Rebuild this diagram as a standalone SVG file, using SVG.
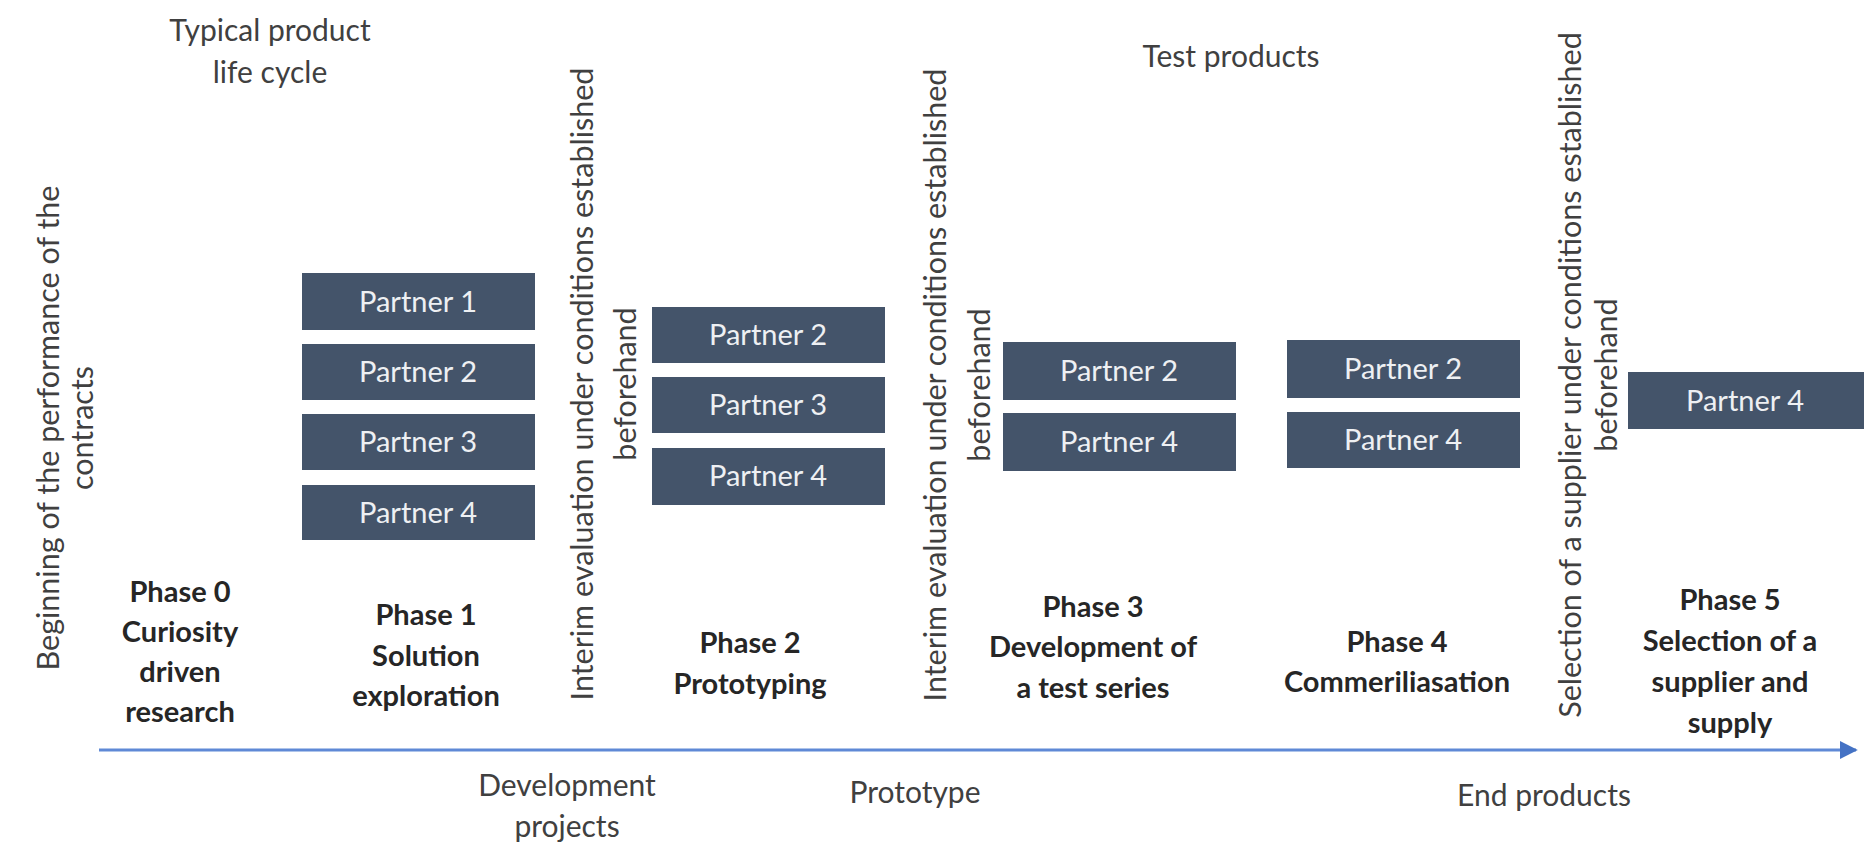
<svg xmlns="http://www.w3.org/2000/svg" width="1864" height="844" viewBox="0 0 1864 844">
<defs>
<style>
.box{fill:#44546a;}
.pt{font-family:Lato,"Open Sans","Liberation Sans",sans-serif;font-size:29px;fill:#eef0f3;text-anchor:middle;}
.ph{font-family:Lato,"Open Sans","Liberation Sans",sans-serif;font-size:29px;font-weight:bold;fill:#262626;text-anchor:middle;}
.lb{font-family:Lato,"Open Sans","Liberation Sans",sans-serif;font-size:30px;fill:#404040;text-anchor:middle;}
.vt{font-family:Lato,"Open Sans","Liberation Sans",sans-serif;font-size:30.5px;fill:#404040;text-anchor:middle;}
</style>
<marker id="ah" viewBox="0 0 10 10" refX="9" refY="5" markerWidth="6" markerHeight="6" orient="auto" markerUnits="strokeWidth">
<path d="M0,0 L10,5 L0,10 Z" fill="#4472c4"/>
</marker>
</defs>
<rect width="1864" height="844" fill="#ffffff"/>

<g id="connectors">
<line x1="99" y1="750" x2="1856" y2="750" stroke="#5f89d6" stroke-width="3" marker-end="url(#ah)"/>
</g>

<g id="title-lifecycle"><text class="lb" x="270" y="41">Typical product<tspan x="270" dy="42">life cycle</tspan></text></g>
<g id="label-test-products"><text class="lb" x="1231" y="67">Test products</text></g>

<g id="milestone-start"><text class="vt" transform="translate(59,428) rotate(-90)">Beginning of the performance of the<tspan x="0" dy="34">contracts</tspan></text></g>
<g id="milestone-eval-1"><text class="vt" transform="translate(593,384) rotate(-90)">Interim evaluation under conditions established<tspan x="0" dy="43">beforehand</tspan></text></g>
<g id="milestone-eval-2"><text class="vt" transform="translate(946,385) rotate(-90)">Interim evaluation under conditions established<tspan x="0" dy="44">beforehand</tspan></text></g>
<g id="milestone-selection"><text class="vt" transform="translate(1581,375) rotate(-90)">Selection of a supplier under conditions established<tspan x="0" dy="36">beforehand</tspan></text></g>

<g id="phase1-partners">
<rect class="box" x="302" y="273" width="233" height="57"/><text class="pt" x="418" y="312">Partner 1</text>
<rect class="box" x="302" y="344" width="233" height="56"/><text class="pt" x="418" y="382">Partner 2</text>
<rect class="box" x="302" y="414" width="233" height="56"/><text class="pt" x="418" y="452">Partner 3</text>
<rect class="box" x="302" y="485" width="233" height="55"/><text class="pt" x="418" y="523">Partner 4</text>
</g>
<g id="phase2-partners">
<rect class="box" x="652" y="307" width="233" height="56"/><text class="pt" x="768" y="345">Partner 2</text>
<rect class="box" x="652" y="377" width="233" height="56"/><text class="pt" x="768" y="415">Partner 3</text>
<rect class="box" x="652" y="448" width="233" height="57"/><text class="pt" x="768" y="486">Partner 4</text>
</g>
<g id="phase3-partners">
<rect class="box" x="1003" y="342" width="233" height="58"/><text class="pt" x="1119" y="381">Partner 2</text>
<rect class="box" x="1003" y="413" width="233" height="58"/><text class="pt" x="1119" y="452">Partner 4</text>
</g>
<g id="phase4-partners">
<rect class="box" x="1287" y="340" width="233" height="58"/><text class="pt" x="1403" y="379">Partner 2</text>
<rect class="box" x="1287" y="412" width="233" height="56"/><text class="pt" x="1403" y="450">Partner 4</text>
</g>
<g id="phase5-partners">
<rect class="box" x="1628" y="372" width="236" height="57"/><text class="pt" x="1745" y="411">Partner 4</text>
</g>

<g id="phase0"><text class="ph" x="180" y="602">Phase 0<tspan x="180" dy="40">Curiosity</tspan><tspan x="180" dy="40">driven</tspan><tspan x="180" dy="40">research</tspan></text></g>
<g id="phase1"><text class="ph" x="426" y="625">Phase 1<tspan x="426" dy="41">Solution</tspan><tspan x="426" dy="40">exploration</tspan></text></g>
<g id="phase2"><text class="ph" x="750" y="653">Phase 2<tspan x="750" dy="41">Prototyping</tspan></text></g>
<g id="phase3"><text class="ph" x="1093" y="617">Phase 3<tspan x="1093" dy="40">Development of</tspan><tspan x="1093" dy="41">a test series</tspan></text></g>
<g id="phase4"><text class="ph" x="1397" y="652">Phase 4<tspan x="1397" dy="40">Commeriliasation</tspan></text></g>
<g id="phase5"><text class="ph" x="1730" y="610">Phase 5<tspan x="1730" dy="41">Selection of a</tspan><tspan x="1730" dy="41">supplier and</tspan><tspan x="1730" dy="41">supply</tspan></text></g>

<g id="label-development"><text class="lb" x="567" y="796">Development<tspan x="567" dy="41">projects</tspan></text></g>
<g id="label-prototype"><text class="lb" x="915" y="803">Prototype</text></g>
<g id="label-end-products"><text class="lb" x="1544" y="806">End products</text></g>
</svg>
